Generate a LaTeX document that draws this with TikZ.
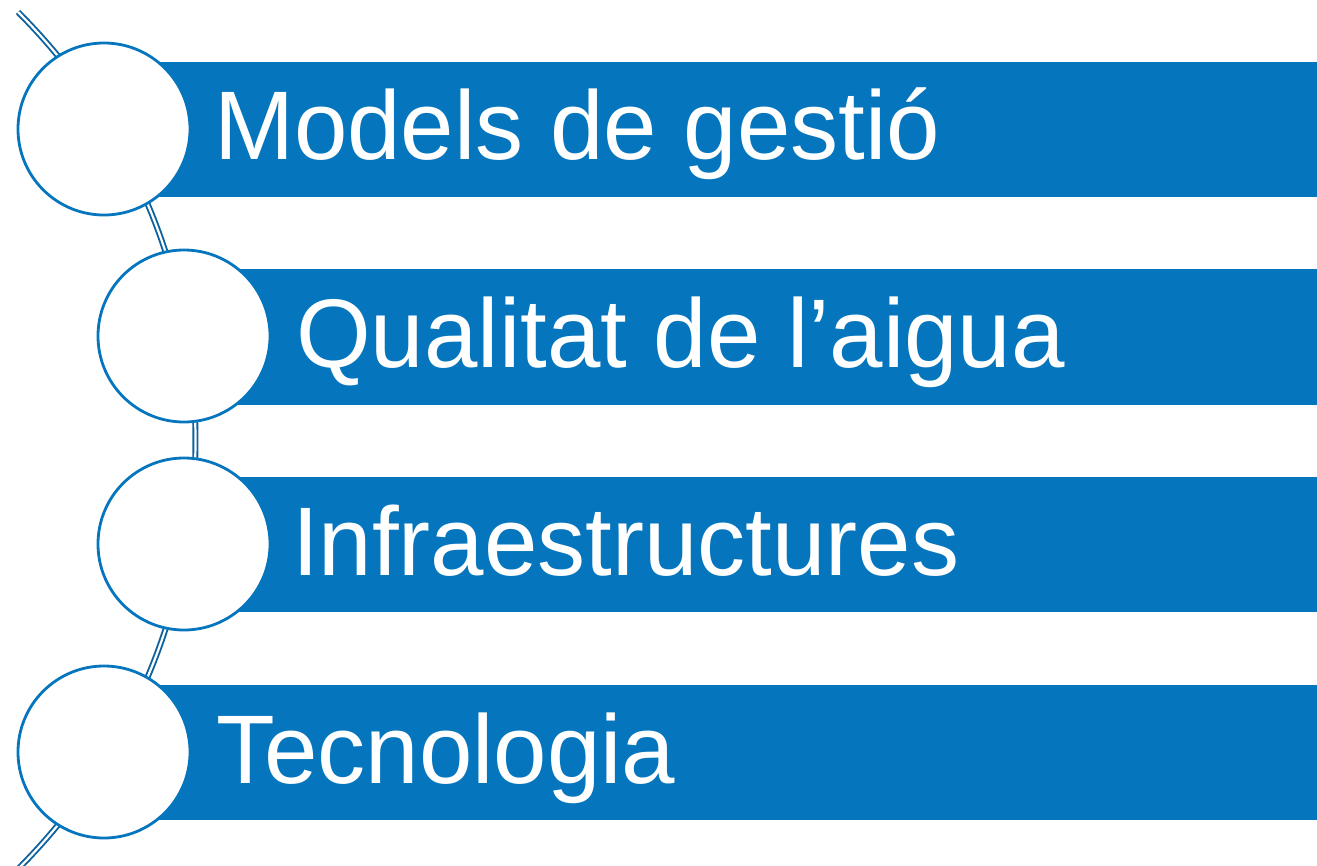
\documentclass[tikz,border=0pt]{standalone}
\usepackage{fontspec}
\setmainfont{Liberation Sans}
\newfontfamily\barfont[FakeStretch=0.985]{Liberation Sans}
\definecolor{barblue}{RGB}{5,118,189}
\definecolor{linkblue}{RGB}{12,98,158}
\begin{document}
\begin{tikzpicture}[x=1pt,y=-1pt,
  bar/.style={fill=barblue,draw=none},
  bubble/.style={circle,draw=barblue,line width=2.8pt,fill=white,minimum size=172pt,inner sep=0pt},
  label/.style={anchor=base west,inner sep=0pt,text=white,font=\barfont\fontsize{97.5}{100}\selectfont},
  link/.style={draw=linkblue,double=white,double distance=2.2pt,line width=1.9pt}]
\useasboundingbox (0,0) rectangle (1317,865);
% connector arc
\coordinate (top) at (18,12);
\draw[link] (top) arc[start angle=45, end angle=-45, radius=606pt] coordinate (bottom);
% bars
\fill[bar] (104,62) rectangle (1317,197);
\fill[bar] (184,269) rectangle (1317,405);
\fill[bar] (184,477) rectangle (1317,612);
\fill[bar] (104,685) rectangle (1317,820);
% circles
\node[bubble] (c1) at (104,129) {};
\node[bubble] (c2) at (184,336) {};
\node[bubble] (c3) at (184,544) {};
\node[bubble] (c4) at (104,752) {};
% labels
\node[label] (t1) at (214,159) {Models de gestió};
\node[label] (t2) at (296,367) {Qualitat de l’aigua};
\node[label] (t3) at (292,575) {Infraestructures};
\node[label] (t4) at (216,783) {Tecnologia};
\end{tikzpicture}
\end{document}
